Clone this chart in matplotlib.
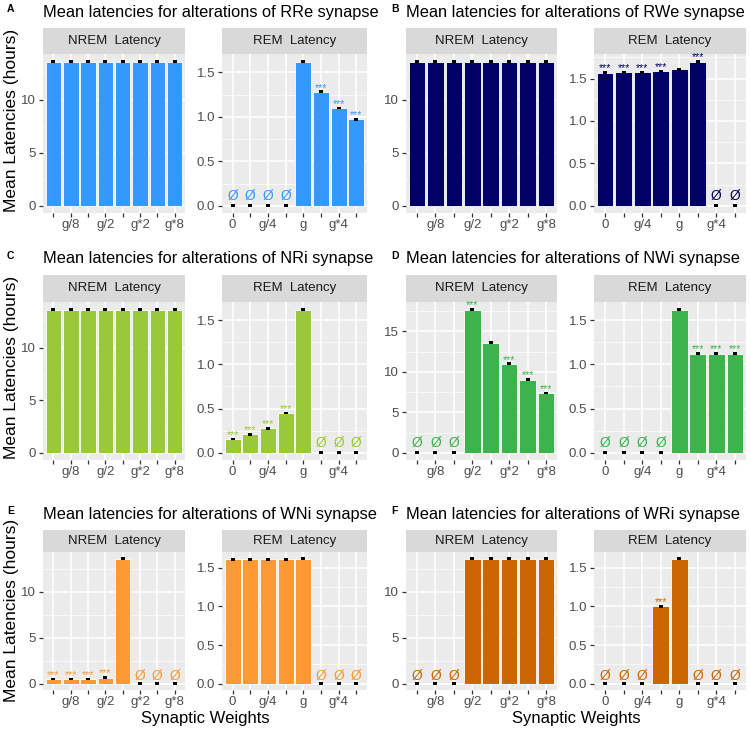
import matplotlib
matplotlib.use("Agg")
import matplotlib.pyplot as plt
from matplotlib.ticker import MultipleLocator

# Data
categories = ["0", "g/8", "g/4", "g/2", "g", "g*2", "g*4", "g*8"]
nrem_ticklabels = ["", "g/8", "", "g/2", "", "g*2", "", "g*8"]
rem_ticklabels = ["0", "", "g/4", "", "g", "", "g*4", ""]

rre_nrem = [13.6, 13.6, 13.6, 13.6, 13.6, 13.6, 13.6, 13.6]
rre_rem = [0, 0, 0, 0, 1.62, 1.28, 1.10, 0.97]
rre_nrem_sig = ["", "", "", "", "", "", "", ""]
rre_rem_sig = ["Ø", "Ø", "Ø", "Ø", "", "***", "***", "***"]

rwe_nrem = [13.6, 13.6, 13.6, 13.6, 13.6, 13.6, 13.6, 13.6]
rwe_rem = [1.57, 1.575, 1.575, 1.59, 1.61, 1.70, 0, 0]
rwe_nrem_sig = ["", "", "", "", "", "", "", ""]
rwe_rem_sig = ["***", "***", "***", "***", "", "***", "Ø", "Ø"]

nri_nrem = [13.6, 13.6, 13.6, 13.6, 13.6, 13.6, 13.6, 13.6]
nri_rem = [0.155, 0.21, 0.275, 0.45, 1.62, 0, 0, 0]
nri_nrem_sig = ["", "", "", "", "", "", "", ""]
nri_rem_sig = ["***", "***", "***", "***", "", "Ø", "Ø", "Ø"]

nwi_nrem = [0, 0, 0, 17.7, 13.6, 11.0, 9.05, 7.4]
nwi_rem = [0, 0, 0, 0, 1.62, 1.12, 1.12, 1.12]
nwi_nrem_sig = ["Ø", "Ø", "Ø", "***", "", "***", "***", "***"]
nwi_rem_sig = ["Ø", "Ø", "Ø", "Ø", "", "***", "***", "***"]

wni_nrem = [0.5, 0.5, 0.5, 0.65, 13.6, 0, 0, 0]
wni_rem = [1.61, 1.61, 1.61, 1.61, 1.62, 0, 0, 0]
wni_nrem_sig = ["***", "***", "***", "***", "", "Ø", "Ø", "Ø"]
wni_rem_sig = ["", "", "", "", "", "Ø", "Ø", "Ø"]

wri_nrem = [0, 0, 0, 13.6, 13.6, 13.6, 13.6, 13.6]
wri_rem = [0, 0, 0, 1.0, 1.62, 0, 0, 0]
wri_nrem_sig = ["Ø", "Ø", "Ø", "", "", "", "", ""]
wri_rem_sig = ["Ø", "Ø", "Ø", "***", "", "Ø", "Ø", "Ø"]

# small standard errors (drawn as black dashes)
nrem_err = 0.04
rem_err = 0.004

panels = [
    ("A", "RRe", "#3399FF", rre_nrem, rre_rem, rre_nrem_sig, rre_rem_sig),
    ("B", "RWe", "#000066", rwe_nrem, rwe_rem, rwe_nrem_sig, rwe_rem_sig),
    ("C", "NRi", "#99C93A", nri_nrem, nri_rem, nri_nrem_sig, nri_rem_sig),
    ("D", "NWi", "#3CB44B", nwi_nrem, nwi_rem, nwi_nrem_sig, nwi_rem_sig),
    ("E", "WNi", "#FF9933", wni_nrem, wni_rem, wni_nrem_sig, wni_rem_sig),
    ("F", "WRi", "#CC6600", wri_nrem, wri_rem, wri_nrem_sig, wri_rem_sig),
]

plt.rcParams["font.family"] = ["Liberation Sans", "DejaVu Sans"]

W, H = 750, 732
fig = plt.figure(figsize=(W / 100, H / 100), dpi=100)


def px_axes(left, top, right, bottom):
    return fig.add_axes([left / W, 1 - bottom / H, (right - left) / W, (bottom - top) / H])


# layout in pixels
col_x = [
    ((43, 185), (222, 367)),
    ((406, 557), (594, 746)),
]
row_y = [(28, 54, 213), (275, 302, 460), (530, 552, 690)]


def draw_facet(box, strip_top, strip_bot, plot_bot, vals, sig, err, step, color, labels, strip_text):
    left, right = box
    # strip first, so the panel (and its labels) sits on top
    st = px_axes(left, strip_top, right, strip_bot)
    st.set_facecolor("#D9D9D9")
    st.set_xticks([])
    st.set_yticks([])
    for sp in st.spines.values():
        sp.set_visible(False)
    st.text(0.5, 0.5, strip_text, ha="center", va="center", fontsize=9.5,
            color="#1A1A1A", transform=st.transAxes)

    ax = px_axes(left, strip_bot, right, plot_bot)
    x = list(range(len(vals)))
    top = max(vals) + err
    ax.set_facecolor("#EBEBEB")
    ax.bar(x, vals, width=0.9, color=color, edgecolor="white", linewidth=0.6, zorder=2)
    ax.errorbar(x, vals, yerr=err, fmt="none", ecolor="black", elinewidth=1.0,
                capsize=1.6, capthick=1.4, zorder=3)
    for xi, v, s in zip(x, vals, sig):
        if s == "***":
            ax.annotate(s, (xi, v + err), xytext=(0, 0.6), textcoords="offset points",
                        ha="center", va="baseline", color=color, fontsize=7.5,
                        zorder=4, annotation_clip=False)
        elif s == "Ø":
            ax.text(xi, 0.065 * top, s, ha="center", va="center",
                    color=color, fontsize=10, zorder=4)
    ax.set_xlim(-0.6, len(vals) - 0.4)
    ax.set_ylim(-0.05 * top, 1.05 * top)
    ax.set_xticks(x)
    ax.set_xticklabels(labels)
    ax.yaxis.set_major_locator(MultipleLocator(step))
    ax.yaxis.set_minor_locator(MultipleLocator(step / 2))
    if step < 1:
        ax.yaxis.set_major_formatter(plt.FuncFormatter(lambda v, p: f"{v:.1f}"))
    ax.grid(which="major", color="white", linewidth=1.1, zorder=0)
    ax.grid(which="minor", axis="y", color="white", linewidth=0.5, zorder=0)
    ax.set_axisbelow(True)
    for sp in ax.spines.values():
        sp.set_visible(False)
    ax.tick_params(which="major", direction="out", length=3, width=0.9,
                   color="#333333", labelcolor="#4D4D4D", labelsize=9.5, pad=2)
    ax.tick_params(axis="x", pad=1.5)
    ax.tick_params(which="minor", length=0)
    return ax


for i, (letter, syn, color, nrem, rem, nrem_sig, rem_sig) in enumerate(panels):
    col = i % 2
    row = i // 2
    (nrem_box, rem_box) = col_x[col]
    strip_top, strip_bot, plot_bot = row_y[row]

    draw_facet(nrem_box, strip_top, strip_bot, plot_bot, nrem, nrem_sig, nrem_err, 5,
               color, nrem_ticklabels, "NREM  Latency")
    draw_facet(rem_box, strip_top, strip_bot, plot_bot, rem, rem_sig, rem_err, 0.5,
               color, rem_ticklabels, "REM  Latency")

    # title and panel letter
    title_y = strip_top - 16
    fig.text(nrem_box[0] / W, 1 - title_y / H,
             f"Mean latencies for alterations of {syn} synapse",
             ha="left", va="center", fontsize=11.8, color="black")
    fig.text((7 + col * 384) / W, 1 - (title_y - 3) / H, letter, ha="left", va="center",
             fontsize=7.5, fontweight="bold")

    if col == 0:
        fig.text(12 / W, 1 - ((strip_top + plot_bot) / 2) / H, "Mean Latencies (hours)",
                 rotation=90, ha="center", va="center", fontsize=12.5)
    if row == 2:
        fig.text(((nrem_box[0] + rem_box[1]) / 2) / W, 1 - 719 / H, "Synaptic Weights",
                 ha="center", va="center", fontsize=12)

fig.savefig("out.png", dpi=100, facecolor="white")
